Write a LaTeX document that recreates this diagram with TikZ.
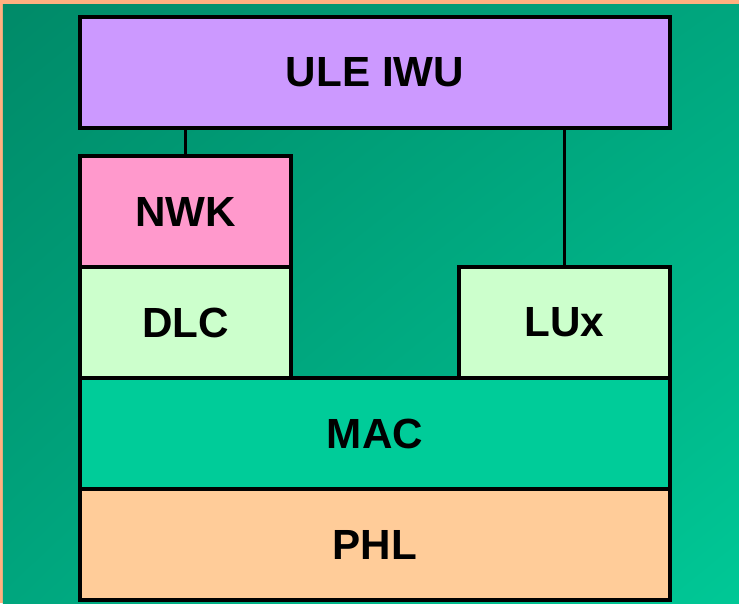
\documentclass[tikz,border=0pt]{standalone}
\usepackage{fontspec}
\setmainfont{Liberation Sans}
\usetikzlibrary{positioning, shadings}
\definecolor{bgorange}{HTML}{FFB080}
\definecolor{bgdark}{HTML}{008A68}
\definecolor{bgmid}{HTML}{00A67E}
\definecolor{bglight}{HTML}{00C896}
\definecolor{ulecol}{HTML}{CC99FF}
\definecolor{nwkcol}{HTML}{FF99CC}
\definecolor{dlccol}{HTML}{CCFFCC}
\definecolor{maccol}{HTML}{00CC99}
\definecolor{phlcol}{HTML}{FFCC99}
\begin{document}
\begin{tikzpicture}[
  layer/.style={rectangle, draw=black, line width=2pt, minimum height=2.22cm,
                text centered, font=\fontsize{24}{28}\selectfont\bfseries},
  wide/.style={layer, minimum width=11.8cm},
  narrow/.style={layer, minimum width=4.22cm},
  link/.style={draw=black, line width=2pt}
]
\useasboundingbox (0,0) rectangle (14.78,-12.06);

% background
\fill[bgorange] (0,0) rectangle (14.78,-12.06);
\shade[upper left=bgdark, upper right=bgmid, lower left=bgmid, lower right=bglight]
  (0.06,-0.08) rectangle (14.78,-12.06);

% layers
\node[wide, fill=ulecol] (ule) at (7.5,-1.45) {ULE IWU};
\node[narrow, fill=nwkcol] (nwk) at (3.71,-4.23) {NWK};
\node[narrow, fill=dlccol] (dlc) at (3.71,-6.45) {DLC};
\node[narrow, fill=dlccol] (lux) at (11.29,-6.45) {LUx};
\node[wide, fill=maccol] (mac) at (7.5,-8.67) {MAC};
\node[wide, fill=phlcol] (phl) at (7.5,-10.89) {PHL};

% links to IWU
\draw[link] (ule.south -| nwk.north) -- (nwk.north);
\draw[link] (ule.south -| lux.north) -- (lux.north);

\end{tikzpicture}
\end{document}
